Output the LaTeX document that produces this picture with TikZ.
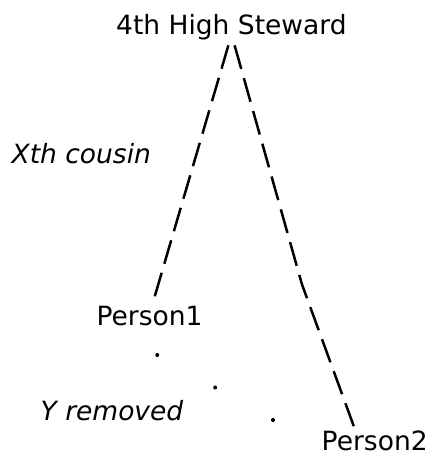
\documentclass[tikz,border=0pt]{standalone}
\usepackage{fontspec}
\setmainfont{DejaVu Sans}
\begin{document}
\begin{tikzpicture}[x=1pt,y=-1pt,
  lbl/.style={font=\fontsize{26.5}{30}\selectfont, inner sep=0pt, anchor=base},
  ital/.style={lbl, font=\fontsize{26.5}{30}\selectfont\itshape},
  leftline/.style={line width=2.5pt, dash pattern=on 24.4pt off 9.47pt},
  rightline/.style={line width=2.5pt, dash pattern=on 24.54pt off 9.54pt},
  dotline/.style={line width=4pt, line cap=round, dash pattern=on 0.01pt off 66.34pt}]
\useasboundingbox (0,0) rectangle (432,456);
\node[lbl] (title) at (231.4,34) {4th High Steward};
\node[ital] (cousin) at (81.3,163.3) {Xth cousin};
\node[lbl] (p1) at (149.5,325) {Person1};
\node[ital] (removed) at (112,420) {Y removed};
\node[lbl] (p2) at (374.7,450.5) {Person2};
\coordinate (ltop) at (228.4,45.3);
\coordinate (lbot) at (154.8,296.2);
\coordinate (rtop) at (234.6,45.3);
\coordinate (rbend) at (302,284.5);
\coordinate (rbot) at (353.8,426.2);
\coordinate (d1) at (157.3,355);
\coordinate (d3) at (273,420);
\draw[leftline] (ltop) -- (lbot);
\draw[rightline] (rtop) -- (rbend) -- (rbot);
\draw[dotline] (d1) -- (d3);
\end{tikzpicture}
\end{document}
